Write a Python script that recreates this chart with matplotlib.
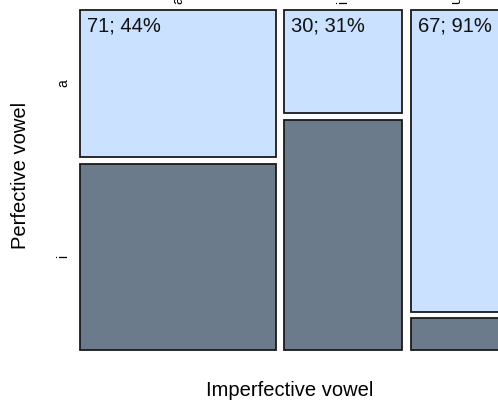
import numpy as np
import matplotlib
matplotlib.use('Agg')
import matplotlib.pyplot as plt
from matplotlib.patches import Rectangle

plt.rcParams['font.family'] = ['Liberation Sans', 'DejaVu Sans']

# imperfective vowel (columns) and perfective vowel (rows)
imperf = ['a', 'i', 'u']
perf = ['a', 'i']
count_a = [71, 30, 67]
count_i = [90, 67, 7]

light = '#CAE1FF'
dark = '#6C7B8B'
edge = '#1a1a1a'
gap_x = 7.0
gap_y = 0.021

totals = np.array(count_a) + np.array(count_i)
share_a = np.array(count_a) / totals

fig = plt.figure(figsize=(4.98, 4.03), dpi=100)
W, H = 498, 403
x_end = totals.sum() + gap_x * (len(totals) - 1)
# axes spans pixel 80..501 horizontally, 10..350 vertically (top down)
ax = fig.add_axes([80 / W, (H - 350) / H, 421 / W, 340 / H])
ax.set_xlim(0, x_end)
ax.set_ylim(0, 1 + gap_y)
ax.axis('off')

x0 = 0.0
for k in range(len(imperf)):
    w = totals[k]
    p_i = 1 - share_a[k]
    ax.add_patch(Rectangle((x0, 0), w, p_i, facecolor=dark, edgecolor=edge,
                           linewidth=1.3, clip_on=False))
    ax.add_patch(Rectangle((x0, p_i + gap_y), w, share_a[k], facecolor=light,
                           edgecolor=edge, linewidth=1.3, clip_on=False))
    ax.annotate('%d; %d%%' % (count_a[k], round(share_a[k] * 100)),
                xy=(x0, 1 + gap_y), xytext=(5, -5), textcoords='offset points',
                ha='left', va='top', fontsize=14.5, color='#111111')
    # column labels on top (cut off by figure edge)
    ax.annotate(imperf[k], xy=(x0 + w / 2, 1 + gap_y), xytext=(0, 4),
                textcoords='offset points', rotation=90, ha='center',
                va='bottom', fontsize=10, annotation_clip=False)
    if k == 0:
        ax.annotate(perf[0], xy=(0, p_i + gap_y + share_a[k] / 2), xytext=(-7, 0),
                    textcoords='offset points', rotation=90, ha='right',
                    va='center', fontsize=10)
        ax.annotate(perf[1], xy=(0, p_i / 2), xytext=(-7, 0),
                    textcoords='offset points', rotation=90, ha='right',
                    va='center', fontsize=10)
    x0 += w + gap_x

fig.text(290 / W, 1 - 390 / H, 'Imperfective vowel', ha='center', va='center',
         fontsize=14.5)
fig.text(20 / W, 1 - 175 / H, 'Perfective vowel', ha='center', va='center',
         rotation=90, fontsize=14.5)

fig.savefig('out.png', dpi=100)
